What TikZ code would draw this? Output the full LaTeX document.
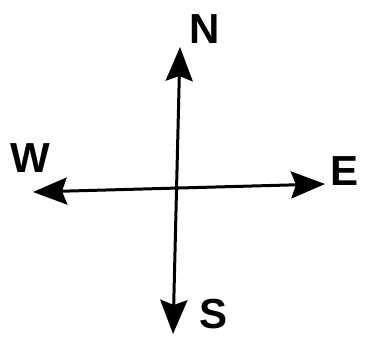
\documentclass[tikz,border=0pt]{standalone}
\usepackage{fontspec}
\setmainfont{Liberation Sans}
\usetikzlibrary{arrows.meta}
\tikzset{
  axis/.style={line width=3pt, black, {Stealth[length=34pt,width=27pt,inset=5pt]}-{Stealth[length=34pt,width=27pt,inset=5pt]}},
  dirlabel/.style={inner sep=0pt, font=\fontsize{42}{42}\selectfont\bfseries}
}
\begin{document}
\begin{tikzpicture}[x=1pt,y=-1pt]
\useasboundingbox (0,0) rectangle (372,338);
\coordinate (ntip) at (180,47);
\coordinate (stip) at (173,334);
\coordinate (wtip) at (33,192);
\coordinate (etip) at (325,184);
\draw[axis] (stip) -- (ntip);
\draw[axis] (wtip) -- (etip);
\node[dirlabel] (N) at (205,29) {N};
\node[dirlabel] (W) at (30,158) {W};
\node[dirlabel] (E) at (345,171) {E};
\node[dirlabel] (S) at (214,314) {S};
\end{tikzpicture}
\end{document}
